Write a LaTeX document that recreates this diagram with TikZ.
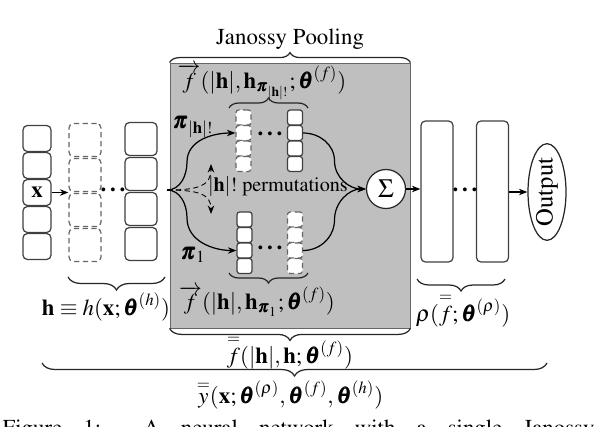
\documentclass[tikz,border=0pt]{standalone}
\usepackage[T1]{fontenc}
\usepackage{amsmath}
\usepackage{mathptmx}
\usepackage{bm}
\usetikzlibrary{shapes.geometric, arrows.meta, calc, positioning, decorations.pathreplacing}

\begin{document}
\begin{tikzpicture}[
    x=0.02cm,
    y=-0.02cm,
    font=\fontsize{13}{15.6}\selectfont,
    line width=0.7pt,
    >={Stealth[length=1.7mm, width=1.3mm]},
    cell/.style={
        draw=black!75,
        rectangle,
        rounded corners=2.5pt,
        fill=white,
        inner sep=0pt
    },
    incell/.style={cell, minimum width=0.56cm, minimum height=0.52cm},
    hcell/.style={cell, minimum width=0.64cm, minimum height=0.66cm},
    pcell/.style={cell, rounded corners=1.5pt, minimum width=0.3cm, minimum height=0.3cm},
    rhocell/.style={cell, minimum width=0.64cm, minimum height=2.82cm},
    ghost/.style={densely dashed, draw=black!60},
    dots/.style={font=\fontsize{13}{15.6}\selectfont\bfseries, inner sep=0pt},
    curly/.style={
        draw=black!85,
        decorate,
        decoration={brace, amplitude=#1}
    },
    curly/.default=0.2cm
]

    % Fixed page size
    \useasboundingbox (0,0) rectangle (594,426);

    % Janossy pooling block
    \node [draw=black!60, fill=gray!50, line width=0.5pt, minimum width=4.8cm, minimum height=5.3cm] (pool) at (290,195.5) {};
    \draw [curly=0.2cm] (pool.north west) -- (pool.north east);
    \node (title) at (290,39) {Janossy Pooling};

    % Input column
    \foreach \i in {1,2,4,5}
        \node [incell] (in\i) at (37,111.5+27*\i) {};
    \node [incell] (in3) at (37,192.5) {$\mathbf{x}$};

    % Layers of h
    \foreach \i in {1,...,4} {
        \node [hcell, ghost] (hd\i) at (85,105+35*\i) {};
        \node [hcell] (hs\i) at (141,104+35*\i) {};
    }
    \node [dots] (hdots) at (113,190) {.\,.\,.};
    \draw [->] (in3.east) -- (in3.east -| hd1.west);

    % Permuted sequences
    \foreach \i in {1,...,4} {
        \node [pcell, ghost] (ud\i) at (243.5,102+15.5*\i) {};
        \node [pcell] (us\i) at (295,102+15.5*\i) {};
        \node [pcell] (ls\i) at (244.5,204+15.5*\i) {};
        \node [pcell, ghost] (ld\i) at (295,204+15.5*\i) {};
    }
    \node [dots] (udots) at (270,134) {.\,.\,.};
    \node [dots] (ldots) at (270,248) {.\,.\,.};

    \draw [curly=0.2cm] (229,108) -- (308,108);
    \node (fup) at (262,82) {$\overrightarrow{f}(|\mathbf{h}|, \mathbf{h}_{\bm{\pi}_{|\mathbf{h}|!}}; \bm{\theta}^{(f)})$};
    \draw [curly=0.2cm] (308,273) -- (229,273);
    \node (flow) at (257,301) {$\overrightarrow{f}(|\mathbf{h}|, \mathbf{h}_{\bm{\pi}_1}; \bm{\theta}^{(f)})$};

    % Fork into permutations
    \coordinate (fork) at (167,190);
    \draw [->] (fork) to [out=0, in=-90] ($(fork)+(20,-28)$) to [out=90, in=180] (ud2.west);
    \draw [->] (fork) to [out=0, in=90] ($(fork)+(20,28)$) to [out=-90, in=180] (ls3.west);
    \draw [->, densely dashed, line width=0.5pt] (fork) .. controls (198,190) and (211,186) .. (211,164);
    \draw [->, densely dashed, line width=0.5pt] (fork) .. controls (198,190) and (211,194) .. (211,214);
    \node (piup) at (193,127) {$\bm{\pi}_{|\mathbf{h}|!}$};
    \node (pione) at (193,255) {$\bm{\pi}_1$};
    \node [font=\fontsize{11.5}{13}\selectfont] (perm) at (278,187) {$|\mathbf{h}|!$ permutations};

    % Sum and rho
    \node [circle, draw=black!85, fill=white, minimum size=0.78cm, inner sep=0pt, font=\fontsize{15}{17}\selectfont] (sigma) at (386,189) {$\Sigma$};
    \draw [->] (us2.east) to [out=0, in=90] ($(us2.east)!0.5!(sigma.west)$) to [out=-90, in=180] (sigma.west);
    \draw [->] (ld3.east) to [out=0, in=-90] ($(ld3.east)!0.5!(sigma.west)$) to [out=90, in=180] (sigma.west);

    \node [rhocell] (rho1) at (437,191.5) {};
    \node [rhocell] (rho2) at (492.5,191.5) {};
    \node [dots] (rdots) at (465,190) {.\,.\,.};
    \node [ellipse, draw=black!85, minimum width=0.76cm, minimum height=1.8cm, inner sep=0pt, font=\fontsize{14}{16}\selectfont] (output) at (547,192) {\rotatebox{90}{Output}};
    \draw [->] (sigma.east) -- (sigma.east -| rho1.west);
    \draw [->] (rho2.east |- output.west) -- (output.west);

    % Braces below
    \draw [curly=0.26cm] (165,277) -- (68,277);
    \node (hlabel) at (106,307) {$\mathbf{h} \equiv h(\mathbf{x}; \bm{\theta}^{(h)})$};
    \draw [curly=0.24cm] (505,279) -- (417,279);
    \node (rholabel) at (463,310) {$\rho(\overset{=}{f}; \bm{\theta}^{(\rho)})$};
    \draw [curly=0.24cm] (pool.south east) -- (pool.south west);
    \node (flabel) at (290,352) {$\overset{=}{f}(|\mathbf{h}|, \mathbf{h}; \bm{\theta}^{(f)})$};
    \draw [curly=0.26cm] (547,363) -- (42,363);
    \node (ylabel) at (290,395) {$\overset{=}{y}(\mathbf{x}; \bm{\theta}^{(\rho)}, \bm{\theta}^{(f)}, \bm{\theta}^{(h)})$};

    % Caption
    \node [anchor=base west, inner sep=0pt] (caption) at (2,435) {\makebox[11.84cm][s]{Figure 1:\ \ A neural network with a single Janossy}};

\end{tikzpicture}
\end{document}
